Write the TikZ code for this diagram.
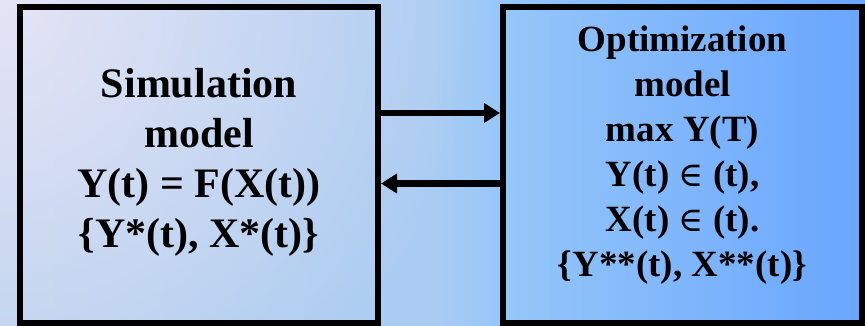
\documentclass[tikz,border=0pt]{standalone}
\usepackage{fontspec}
\setmainfont{Liberation Serif}
\newfontfamily\symf{DejaVu Serif}
\usetikzlibrary{arrows.meta,fadings}
\definecolor{bgA}{RGB}{182,208,238}
\definecolor{bgB}{RGB}{170,204,242}
\definecolor{bgC}{RGB}{150,199,249}
\definecolor{bgD}{RGB}{104,165,255}
\definecolor{lav}{RGB}{238,232,247}
\pgfdeclarehorizontalshading{bgshade}{100bp}{color(0bp)=(bgA); color(25bp)=(bgA); color(50bp)=(bgB); color(54bp)=(bgC); color(75bp)=(bgD); color(100bp)=(bgD)}
\tikzfading[name=myfade, inner color=transparent!0, outer color=transparent!100]
\tikzset{
  box/.style={draw=black, line width=6pt, inner sep=0pt, rectangle},
  ltext/.style={font=\bfseries\fontsize{42}{50}\selectfont, align=center, inner sep=0pt},
  rtext/.style={font=\bfseries\fontsize{37}{45}\selectfont, align=center, inner sep=0pt},
  arr/.style={line width=6.5pt, -{Triangle[length=16pt,width=19pt]}}
}
\newcommand{\elemof}{{\mdseries\symf\fontsize{34}{45}\selectfont ∈}}
\begin{document}
\begin{tikzpicture}[x=1pt,y=-1pt]
\useasboundingbox (0,0) rectangle (865,326);
\shade[shading=bgshade] (0,0) rectangle (865,326);
\begin{scope}
\clip (0,0) rectangle (865,326);
\fill[lav, fill opacity=0.85, path fading=myfade] (0,0) circle (480pt);
\end{scope}
\node[box, minimum width=358pt, minimum height=316pt] (lbox) at (199,165) {};
\node[box, minimum width=359pt, minimum height=316pt] (rbox) at (682.5,165) {};
\node[ltext] (ltxt) at (199,162.5) {Simulation\\model\\Y(t) = F(X(t))\\\{Y*(t), X*(t)\}};
\node[rtext] (rtxt) at (682.5,155) {Optimization\\model\\max Y(T)\\Y(t) \elemof{} (t),\\X(t) \elemof{} (t).\\\{Y**(t), X**(t)\}};
\coordinate (a1) at (0,113);
\coordinate (a2) at (0,183.5);
\draw[arr] (lbox.east |- a1) -- (rbox.west |- a1);
\draw[arr] (rbox.west |- a2) -- (lbox.east |- a2);
\end{tikzpicture}
\end{document}
